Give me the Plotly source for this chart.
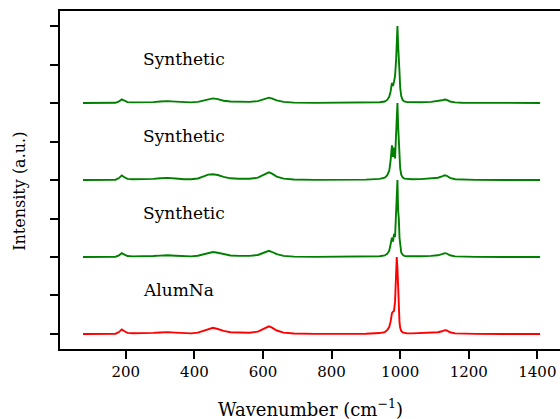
import plotly.graph_objects as go

wavenumber = [75, 100, 130, 160, 170, 180, 188, 196, 205, 220, 250, 280, 300, 322, 345, 370,
              390, 410, 425, 440, 454, 468, 485, 505, 530, 560, 585, 600, 610, 617, 625, 640,
              660, 690, 750, 820, 900, 940, 955, 962, 968, 972, 976, 979, 982, 985, 988, 990,
              992, 994, 996, 998, 1000, 1003, 1007, 1012, 1020, 1035, 1060, 1090, 1110, 1122,
              1130, 1136, 1145, 1160, 1180, 1220, 1300, 1408]

alumna = [0, 0, 0, 0, 0.004, 0.025, 0.06, 0.035, 0.015, 0.01, 0.01, 0.014, 0.02, 0.024, 0.018, 0.008,
          0.008, 0.018, 0.04, 0.065, 0.08, 0.065, 0.04, 0.022, 0.016, 0.016, 0.03, 0.06, 0.088, 0.1, 0.085, 0.045,
          0.018, 0.006, 0.002, 0.002, 0.004, 0.012, 0.025, 0.05, 0.09, 0.16, 0.27, 0.29, 0.3, 0.42, 0.7, 1.0,
          0.85, 0.55, 0.3, 0.15, 0.08, 0.04, 0.02, 0.012, 0.008, 0.008, 0.01, 0.015, 0.022, 0.035,
          0.05, 0.045, 0.022, 0.008, 0.003, 0.001, 0, 0]

synthetic_1 = [0, 0, 0, 0, 0.004, 0.022, 0.05, 0.03, 0.012, 0.008, 0.008, 0.012, 0.018, 0.022, 0.016, 0.007,
               0.008, 0.016, 0.035, 0.055, 0.065, 0.055, 0.035, 0.02, 0.014, 0.014, 0.026, 0.05, 0.07, 0.08, 0.068, 0.036,
               0.015, 0.005, 0.002, 0.002, 0.004, 0.01, 0.02, 0.04, 0.08, 0.15, 0.25, 0.2, 0.3, 0.26, 0.55, 0.9,
               1.0, 0.6, 0.5, 0.25, 0.12, 0.06, 0.03, 0.015, 0.01, 0.008, 0.01, 0.015, 0.022, 0.038,
               0.05, 0.045, 0.022, 0.008, 0.003, 0.001, 0, 0]

synthetic_2 = [0, 0, 0, 0, 0.004, 0.025, 0.06, 0.035, 0.014, 0.01, 0.01, 0.015, 0.022, 0.027, 0.02, 0.009,
               0.01, 0.02, 0.045, 0.07, 0.075, 0.065, 0.04, 0.022, 0.016, 0.016, 0.03, 0.065, 0.09, 0.1, 0.085, 0.045,
               0.018, 0.006, 0.002, 0.002, 0.005, 0.015, 0.03, 0.06, 0.12, 0.25, 0.45, 0.3, 0.42, 0.28, 0.6, 0.85,
               1.0, 0.7, 0.45, 0.3, 0.15, 0.07, 0.035, 0.018, 0.012, 0.01, 0.012, 0.02, 0.03, 0.048,
               0.062, 0.055, 0.028, 0.01, 0.004, 0.001, 0, 0]

synthetic_3 = [0, 0, 0, 0, 0.003, 0.02, 0.047, 0.03, 0.012, 0.008, 0.008, 0.012, 0.02, 0.025, 0.018, 0.008,
               0.008, 0.015, 0.03, 0.05, 0.06, 0.05, 0.03, 0.02, 0.015, 0.015, 0.025, 0.045, 0.062, 0.07, 0.06, 0.035,
               0.015, 0.005, 0.002, 0.002, 0.004, 0.01, 0.02, 0.04, 0.08, 0.15, 0.26, 0.22, 0.28, 0.35, 0.55, 0.8,
               1.0, 0.75, 0.62, 0.4, 0.2, 0.09, 0.04, 0.02, 0.012, 0.008, 0.01, 0.015, 0.022, 0.035,
               0.045, 0.04, 0.02, 0.008, 0.003, 0.001, 0, 0]

spectra = [alumna, synthetic_1, synthetic_2, synthetic_3]
labels = ["AlumNa", "Synthetic", "Synthetic", "Synthetic"]
colors = ["red", "green", "green", "green"]
offsets = [0, 1, 2, 3]
label_x = 244
label_dy = 0.57

x_ticks = [200, 400, 600, 800, 1000, 1200, 1400]
y_ticks = [0, 0.5, 1, 1.5, 2, 2.5, 3, 3.5, 4]

FONT = "DejaVu Serif"

fig = go.Figure()
for spec, lab, col, off in zip(spectra, labels, colors, offsets):
    fig.add_trace(go.Scatter(x=wavenumber, y=[v + off for v in spec], mode="lines",
                             line=dict(color=col, width=1.9), showlegend=False, hoverinfo="skip"))
    fig.add_annotation(x=label_x, y=off + label_dy, text=lab, showarrow=False,
                       xanchor="left", yanchor="middle",
                       font=dict(family=FONT, size=17, color="black"))

fig.add_annotation(xref="paper", yref="paper", x=0.5, y=-0.175, text="Wavenumber (cm<sup>−1</sup>)",
                   showarrow=False, xanchor="center", yanchor="middle",
                   font=dict(family=FONT, size=18, color="black"))
fig.add_annotation(xref="paper", yref="paper", x=-0.08, y=0.465, text="Intensity (a.u.)",
                   showarrow=False, xanchor="center", yanchor="middle", textangle=-90,
                   font=dict(family=FONT, size=16, color="black"))

fig.update_layout(
    width=560, height=419,
    margin=dict(l=60, r=0, t=11, b=70),
    paper_bgcolor="white", plot_bgcolor="white",
    font=dict(family=FONT, size=17, color="black"),
    xaxis=dict(range=[8, 1466], tickvals=x_ticks, ticks="outside", ticklen=8, tickwidth=2,
               tickcolor="black", showline=True, linewidth=2, linecolor="black", mirror=True,
               showgrid=False, zeroline=False, tickfont=dict(family=FONT, size=15)),
    yaxis=dict(range=[-0.195, 4.195], tickvals=y_ticks, ticks="outside", ticklen=8, tickwidth=2,
               tickcolor="black", showline=True, linewidth=2, linecolor="black", mirror=False,
               showgrid=False, zeroline=False, showticklabels=False),
)

fig.write_html("out.html")
